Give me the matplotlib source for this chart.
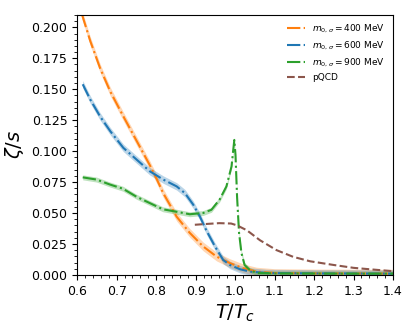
import matplotlib
matplotlib.use("Agg")
import matplotlib.pyplot as plt
import numpy as np

# Orange: m = 400 MeV
T_400 = [0.612, 0.633, 0.658, 0.684, 0.717, 0.751, 0.785, 0.802, 0.818, 0.852, 0.885, 0.919,
         0.953, 0.987, 1.02, 1.054, 1.1, 1.2, 1.3, 1.4]
z_400 = [0.2105, 0.189, 0.167, 0.148, 0.128, 0.108, 0.088, 0.077, 0.066, 0.047, 0.034, 0.023,
         0.0148, 0.0095, 0.0054, 0.0027, 0.0015, 0.0012, 0.0011, 0.001]
e_400 = [0.0035] * len(T_400)

# Blue: m = 600 MeV
T_600 = [0.614, 0.633, 0.658, 0.684, 0.717, 0.751, 0.784, 0.818, 0.852, 0.873, 0.894, 0.911,
         0.927, 0.949, 0.97, 0.987, 1.012, 1.037, 1.08, 1.2, 1.3, 1.4]
z_600 = [0.154, 0.1417, 0.128, 0.116, 0.1026, 0.093, 0.0837, 0.077, 0.0715, 0.066, 0.0567, 0.047,
         0.036, 0.023, 0.012, 0.008, 0.0046, 0.0027, 0.0015, 0.0012, 0.0011, 0.001]
e_600 = [0.003] * len(T_600)

# Green: m = 900 MeV
T_900 = [0.614, 0.649, 0.683, 0.716, 0.751, 0.784, 0.817, 0.852, 0.885, 0.919, 0.94, 0.961,
         0.978, 0.991, 0.995, 0.998, 1.001, 1.005, 1.01, 1.016, 1.024, 1.037, 1.055, 1.1, 1.2, 1.3, 1.4]
z_900 = [0.0788, 0.077, 0.073, 0.0696, 0.063, 0.058, 0.053, 0.051, 0.049, 0.050, 0.0526, 0.061,
         0.0715, 0.0877, 0.100, 0.109, 0.097, 0.063, 0.034, 0.0178, 0.008, 0.004, 0.0015, 0.0012, 0.0011, 0.001, 0.001]
e_900 = [0.002] * len(T_900)

# pQCD
T_pqcd = [0.898, 0.93, 0.96, 0.99, 1.005, 1.03, 1.063, 1.105, 1.147, 1.19, 1.25, 1.3, 1.35, 1.4]
z_pqcd = [0.0405, 0.0412, 0.0418, 0.0415, 0.040, 0.036, 0.028, 0.020, 0.0146, 0.011, 0.008, 0.0057, 0.0043, 0.003]

labels = [r"$m_{0,\sigma} = 400$ MeV", r"$m_{0,\sigma} = 600$ MeV", r"$m_{0,\sigma} = 900$ MeV", "pQCD"]

fig = plt.figure(figsize=(4.15, 3.32), dpi=100)
ax = fig.add_axes([0.186, 0.172, 0.761, 0.783])

series = [(T_400, z_400, e_400, "C1"), (T_600, z_600, e_600, "C0"), (T_900, z_900, e_900, "C2")]
for (T, z, e, c), lab in zip(series, labels[:3]):
    T = np.array(T); z = np.array(z); e = np.array(e)
    ax.fill_between(T, z - e, z + e, color=c, alpha=0.3, lw=0)
    ax.plot(T, z, ls="-.", color=c, lw=1.5, label=lab)
ax.plot(T_pqcd, z_pqcd, ls="--", color="C5", lw=1.5, label=labels[3])

ax.set_xlim(0.6, 1.4)
ax.set_ylim(0, 0.21)
ax.set_yticks(np.arange(0, 0.2001, 0.025))
ax.minorticks_on()
ax.tick_params(labelsize=9)
ax.set_xlabel(r"$T/T_c$", fontsize=14)
ax.set_ylabel(r"$\zeta/s$", fontsize=14)
ax.legend(loc="upper right", frameon=False, fontsize=6.5)

fig.savefig("out.png", dpi=100)
